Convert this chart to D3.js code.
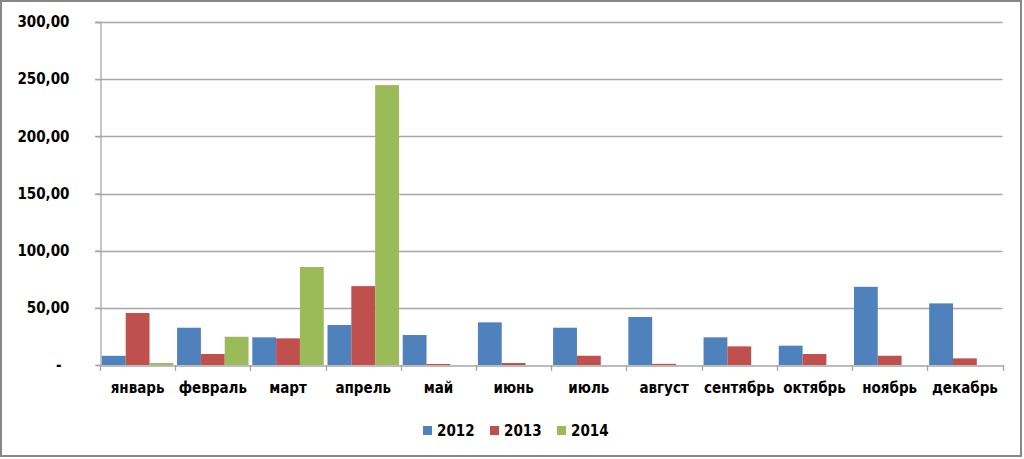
<!DOCTYPE html>
<html><head><meta charset="utf-8">
<script src="https://cdn.jsdelivr.net/npm/d3@7"></script>
<style>
html,body{margin:0;padding:0;background:#fff;}
svg text{font-family:"DejaVu Sans Condensed","DejaVu Sans",sans-serif;font-weight:bold;fill:#000;}
</style></head>
<body>
<svg id="c" width="1024" height="459"></svg>
<script>
const months = ["январь","февраль","март","апрель","май","июнь","июль","август","сентябрь","октябрь","ноябрь","декабрь"];
const seriesNames = ["2012","2013","2014"];
const values2012 = [8, 32.6, 24.2, 35, 26.2, 37.3, 32.6, 42, 24.2, 16.9, 68.4, 53.9];
const values2013 = [45.5, 9.6, 23.3, 69, 0.9, 1.7, 8.1, 1, 16.3, 9.6, 8.1, 5.8];
const values2014 = [1.7, 24.7, 85.7, 244.8, 0, 0, 0, 0, 0, 0, 0, 0];
const yTicks = [0, 50, 100, 150, 200, 250, 300];
const colors = ["#4F81BD", "#C0504D", "#9BBB59"];

const svg = d3.select("#c");
const plotLeft = 100, plotRight = 1002.5, plotTop = 22, plotBottom = 365;

const x0 = d3.scaleBand().domain(months).range([plotLeft, plotRight]).padding(0);
const bw = x0.bandwidth();
const x1 = d3.scaleBand().domain(seriesNames).range([bw*0.025, bw*0.975]).padding(0);
const y = d3.scaleLinear().domain([0, 300]).range([plotBottom, plotTop]);

// frame
svg.append("rect").attr("x",1).attr("y",1).attr("width",1020).attr("height",455)
  .attr("fill","none").attr("stroke","#878787").attr("stroke-width",2);

// gridlines
svg.append("g").selectAll("line").data(yTicks.filter(d=>d>0)).join("line")
  .attr("x1", plotLeft-5).attr("x2", plotRight)
  .attr("y1", d=>Math.round(y(d))+0.5).attr("y2", d=>Math.round(y(d))+0.5)
  .attr("stroke","#a6a6a6").attr("stroke-width",1.3);

// y axis
const fmt = d => d === 0 ? "-" : d3.format(".2f")(d).replace(".", ",");
const yAxis = d3.axisLeft(y).tickValues(yTicks).tickFormat(fmt).tickSize(5).tickPadding(26);
const gy = svg.append("g").attr("transform", `translate(${plotLeft+0.5},0)`).call(yAxis);
gy.select(".domain").attr("stroke","#a6a6a6").attr("stroke-width",1.3);
gy.selectAll(".tick line").attr("stroke","#a6a6a6").attr("stroke-width",1.3);
gy.selectAll(".tick text").attr("font-size","15px").attr("font-family",null).attr("fill","#000");
gy.selectAll(".tick").filter(d=>d===0).select("text").attr("dx", -8);

// bars
const data = months.map((m,i)=>({m, vals:[values2012[i], values2013[i], values2014[i]]}));
const groups = svg.append("g").selectAll("g").data(data).join("g")
  .attr("transform", d=>`translate(${x0(d.m)},0)`);
groups.selectAll("rect").data(d=>d.vals.map((v,j)=>({v,j})).filter(o=>o.v>0)).join("rect")
  .attr("x", d=>x1(seriesNames[d.j]))
  .attr("width", x1.bandwidth())
  .attr("y", d=>y(d.v))
  .attr("height", d=>y(0)-y(d.v))
  .attr("fill", d=>colors[d.j]);

// x axis
const xAxis = d3.axisBottom(x0).tickSize(0).tickPadding(17);
const gx = svg.append("g").attr("transform", `translate(0,${plotBottom+0.5})`).call(xAxis);
gx.select(".domain").attr("stroke","#a6a6a6").attr("stroke-width",1.3);
gx.selectAll(".tick text").attr("font-size","15px").attr("font-family",null).attr("fill","#000");
// category boundary ticks
svg.append("g").selectAll("line").data(months.concat(["end"])).join("line")
  .attr("x1", (d,i)=>Math.round(i<12 ? x0(d) : plotRight)+0.5)
  .attr("x2", (d,i)=>Math.round(i<12 ? x0(d) : plotRight)+0.5)
  .attr("y1", plotBottom).attr("y2", plotBottom+6)
  .attr("stroke","#a6a6a6").attr("stroke-width",1.3);

// legend
const legendX = [423, 490, 557];
const lg = svg.append("g").selectAll("g").data(seriesNames).join("g")
  .attr("transform", (d,i)=>`translate(${legendX[i]},426)`);
lg.append("rect").attr("width",9).attr("height",9).attr("fill",(d,i)=>colors[i]);
lg.append("text").attr("x",14).attr("y",10).attr("font-size","15px").text(d=>d);
</script>
</body></html>
